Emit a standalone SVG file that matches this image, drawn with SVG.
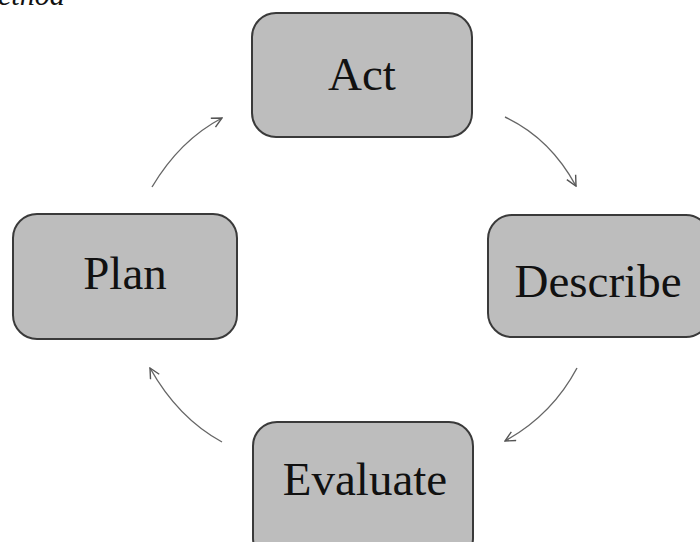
<svg xmlns="http://www.w3.org/2000/svg" width="700" height="542" viewBox="0 0 700 542">
<defs>
<style>
.box{fill:#bdbdbd;stroke:#3a3a3a;stroke-width:2}
.lbl{font-family:"Liberation Serif","Times New Roman",serif;font-size:47px;fill:#111;text-anchor:middle}
.conn{fill:none;stroke:#666;stroke-width:1.4}
.cap{font-family:"Liberation Serif","Times New Roman",serif;font-style:italic;font-size:30px;fill:#111}
</style>
<marker id="arr" viewBox="0 0 12 12" refX="11" refY="6" markerWidth="12" markerHeight="12" markerUnits="userSpaceOnUse" orient="auto">
<path d="M1,1 L11,6 L1,11" fill="none" stroke="#555" stroke-width="1.4"/>
</marker>
</defs>
<rect width="700" height="542" fill="#fff"/>
<text class="cap" x="-2" y="5">ethod</text>
<g id="act"><rect class="box" x="252" y="13" width="220" height="124" rx="24"/><text class="lbl" x="362" y="90">Act</text></g>
<g id="describe"><rect class="box" x="488" y="215" width="222" height="122" rx="24"/><text class="lbl" x="598" y="297">Describe</text></g>
<g id="evaluate"><rect class="box" x="253" y="422" width="220" height="140" rx="24"/><text class="lbl" x="365" y="495">Evaluate</text></g>
<g id="plan"><rect class="box" x="13" y="214" width="224" height="125" rx="24"/><text class="lbl" x="125" y="289">Plan</text></g>
<g id="connectors">
<path class="conn" d="M152,187 Q180,140 222,118" marker-end="url(#arr)"/>
<path class="conn" d="M505,117 Q550,138 576,186" marker-end="url(#arr)"/>
<path class="conn" d="M577,368 Q552,415 505,441" marker-end="url(#arr)"/>
<path class="conn" d="M222,442 Q178,418 150,368" marker-end="url(#arr)"/>
</g>
</svg>
